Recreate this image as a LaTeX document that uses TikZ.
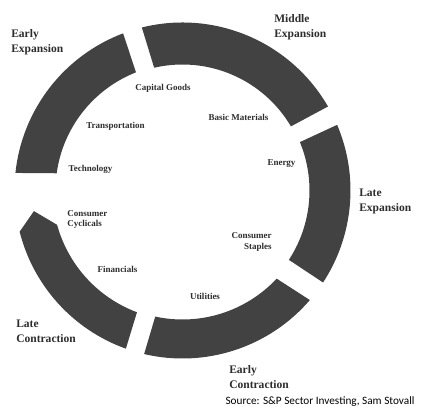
\documentclass[tikz,border=0pt]{standalone}
\usepackage{fontspec}
\usepackage{tikz}
\usepackage{xcolor}
\setmainfont{Liberation Serif}
\newfontfamily\sourcefont{Carlito}
\definecolor{ringgray}{RGB}{66, 66, 66}
\definecolor{inkgray}{RGB}{45, 45, 45}

\begin{document}
\begin{tikzpicture}[
    x=0.025cm, y=0.025cm,
    band/.style={fill=ringgray},
    phase/.style={
      font=\fontsize{8.2}{10.6}\selectfont\bfseries,
      text=inkgray,
      align=left,
      inner sep=0pt
    },
    sector/.style={
      font=\fontsize{6.4}{7.8}\selectfont\bfseries,
      text=inkgray,
      inner sep=0pt
    }
  ]
    \useasboundingbox (-182.5,-225.5) rectangle (239.5,190.5);

    % ring segments, clockwise
    \fill[band] (174:168) arc[start angle=174, end angle=110.7, radius=168]
      -- (111.5:127) arc[start angle=111.5, end angle=172.2, radius=127] -- cycle;
    \fill[band] (104:168) arc[start angle=104, end angle=30, radius=168]
      -- (30.6:126) arc[start angle=30.6, end angle=103, radius=126] -- cycle;
    \fill[band] (23:168) arc[start angle=23, end angle=-33.2, radius=168]
      -- (-33.1:127) arc[start angle=-33.1, end angle=22.4, radius=127] -- cycle;
    \fill[band] (-40.7:168) arc[start angle=-40.7, end angle=-103.2, radius=168]
      -- (-102.2:129) arc[start angle=-102.2, end angle=-43.1, radius=129] -- cycle;
    \fill[band] (250.3:168) arc[start angle=250.3, end angle=194.2, radius=168]
      -- (187.9:150) -- (195.3:130) arc[start angle=195.3, end angle=249.5, radius=130] -- cycle;

    % phases
    \node[phase, anchor=west] (earlyexp) at (-171.5,148.5) {Early\\Expansion};
    \node[phase, anchor=west] (midexp) at (91.5,163.5) {Middle\\Expansion};
    \node[phase, anchor=west] (lateexp) at (176.5,-11) {Late\\Expansion};
    \node[phase, anchor=west] (earlycon) at (46.5,-186.5) {Early\\Contraction};
    \node[phase, anchor=west] (latecon) at (-166.5,-141) {Late\\Contraction};

    % sectors
    \node[sector] (capgoods) at (-19.5,102.5) {Capital Goods};
    \node[sector] (transport) at (-67,64.5) {Transportation};
    \node[sector] (tech) at (-92,21.5) {Technology};
    \node[sector] (basicmat) at (56,73.5) {Basic Materials};
    \node[sector] (energy) at (99,26.5) {Energy};
    \node[sector, align=right, anchor=east] (staples) at (89.5,-51) {Consumer\\Staples};
    \node[sector] (utilities) at (22.5,-105.5) {Utilities};
    \node[sector] (financials) at (-65,-78.5) {Financials};
    \node[sector, align=left, anchor=west] (cyclicals) at (-115.5,-29) {Consumer\\Cyclicals};

    \node[font=\sourcefont\fontsize{8}{9}\selectfont, inner sep=0pt] (source) at (137.5,-211.5)
      {Source: S\&P Sector Investing, Sam Stovall};
  \end{tikzpicture}
\end{document}
